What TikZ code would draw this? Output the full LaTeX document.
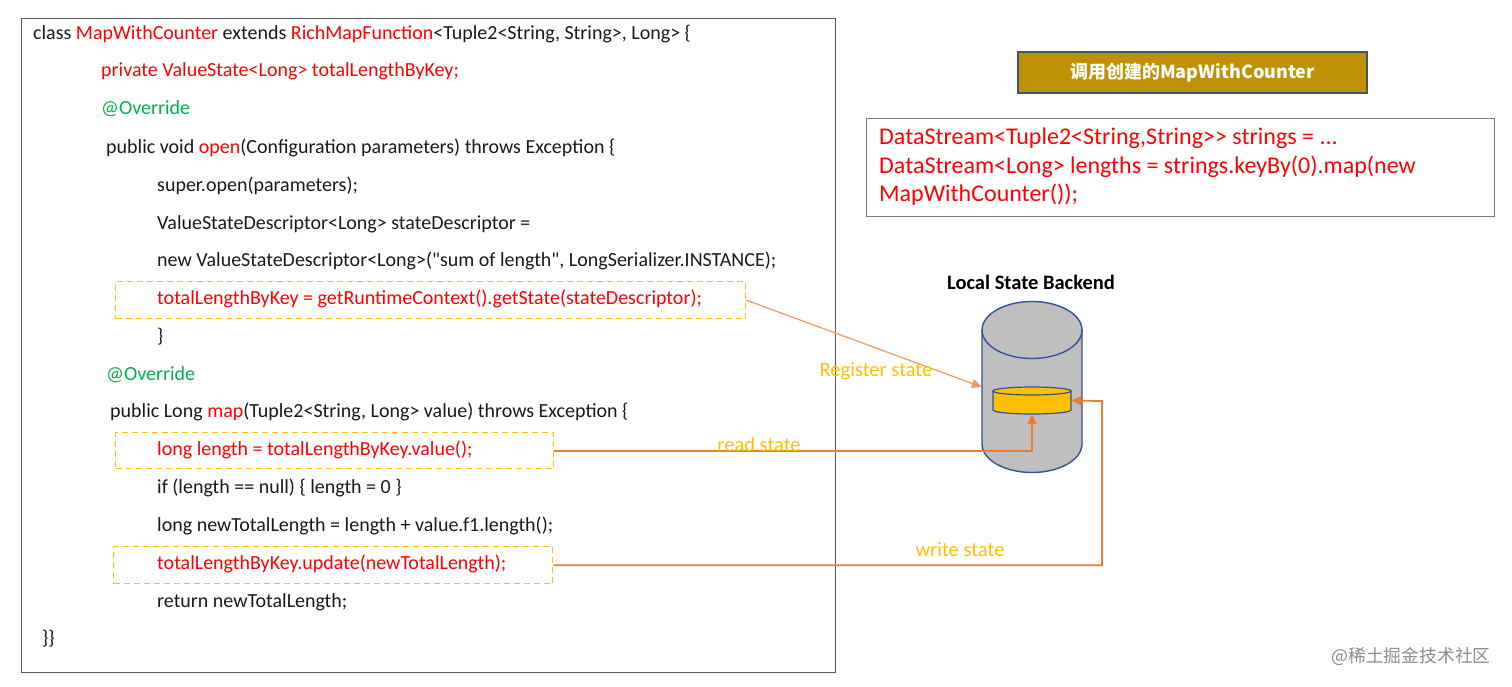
\documentclass[tikz,border=0pt]{standalone}
\usepackage{fontspec}
\setmainfont{Carlito}[Ligatures=TeXOff]
\newfontfamily\cjk{Noto Sans CJK SC}[Ligatures=TeXOff]
\usetikzlibrary{arrows.meta}
\definecolor{codered}{HTML}{FF0000}
\definecolor{codegreen}{HTML}{00B050}
\definecolor{gold}{HTML}{FFC000}
\definecolor{conn}{HTML}{ED7D31}
\definecolor{boxgold}{HTML}{BF9000}
\definecolor{slate}{HTML}{44546A}
\definecolor{cylgray}{HTML}{BFBFBF}
\definecolor{cylblue}{HTML}{2F5597}
\definecolor{frame}{HTML}{595959}
\tikzset{
  codeline/.style={anchor=west, inner sep=0pt, font=\fontsize{20}{24}\selectfont, text=black!90},
  hot/.style={codeline, text=codered},
  anno/.style={codeline, text=codegreen},
  dashbox/.style={draw=gold, line width=1.4pt, dash pattern=on 6pt off 4pt, anchor=north west, inner sep=0pt},
  conline/.style={draw=conn, line width=1.8pt},
  contip/.style={-{Triangle[length=10pt,width=9pt]}},
  conlabel/.style={inner sep=0pt, font=\fontsize{20.5}{24}\selectfont, text=gold},
}
\begin{document}
\begin{tikzpicture}[x=1pt,y=-1pt]
\useasboundingbox (0,0) rectangle (1512,686);
% code frame
\node[draw=frame, line width=1.3pt, anchor=north west, minimum width=814pt, minimum height=654pt, inner sep=0pt] (code) at (21,18) {};
% dashed boxes
\node[dashbox, minimum width=630pt, minimum height=37pt] (box1) at (115,281) {};
\node[dashbox, minimum width=438pt, minimum height=36pt] (box2) at (115,432) {};
\node[dashbox, minimum width=439pt, minimum height=37pt] (box3) at (113,546) {};
% code lines
\node[codeline] (l1) at (33,34) {class \textcolor{codered}{MapWithCounter} extends \textcolor{codered}{RichMapFunction}<Tuple2<String, String>, Long> \{};
\node[hot] (l2) at (101,71) {private ValueState<Long> totalLengthByKey;};
\node[anno] (l3) at (101,109) {@Override};
\node[codeline] (l4) at (106,148) {public void \textcolor{codered}{open}(Configuration parameters) throws Exception \{};
\node[codeline] (l5) at (157,186) {super.open(parameters);};
\node[codeline] (l6) at (157,224) {ValueStateDescriptor<Long> stateDescriptor =};
\node[codeline] (l7) at (157,261) {new ValueStateDescriptor<Long>(\char34 sum of length\char34, LongSerializer.INSTANCE);};
\node[hot] (l8) at (157,299) {totalLengthByKey = getRuntimeContext().getState(stateDescriptor);};
\node[codeline] (l9) at (157,337) {\}};
\node[anno] (l10) at (106,375) {@Override};
\node[codeline] (l11) at (110,412) {public Long \textcolor{codered}{map}(Tuple2<String, Long> value) throws Exception \{};
\node[hot] (l12) at (157,450) {long length = totalLengthByKey.value();};
\node[codeline] (l13) at (157,488) {if (length == null) \{ length = 0 \}};
\node[codeline] (l14) at (157,526) {long newTotalLength = length + value.f1.length();};
\node[hot] (l15) at (157,564) {totalLengthByKey.update(newTotalLength);};
\node[codeline] (l16) at (157,602) {return newTotalLength;};
\node[codeline] (l17) at (42,639) {\}\}};
% title box
\node[draw=slate, fill=boxgold, line width=1.5pt, minimum width=349pt, minimum height=41pt, inner sep=0pt, text=white, font=\cjk\bfseries\fontsize{18}{21}\selectfont] (title) at (1192.5,72.5) {调用创建的MapWithCounter};
% usage box
\node[draw=frame!80, line width=1.3pt, anchor=north west, minimum width=628pt, minimum height=98pt, inner sep=0pt] (usage) at (866,118) {};
\node[anchor=west, align=left, inner sep=0pt, text=codered, font=\fontsize{24}{28.5}\selectfont] (usagetxt) at (879,167) {DataStream<Tuple2<String,String>> strings = ...\\DataStream<Long> lengths = strings.keyBy(0).map(new\\MapWithCounter());};
% backend
\node[inner sep=0pt, font=\bfseries\fontsize{20.5}{24}\selectfont] (backend) at (1031,282) {Local State Backend};
\node[inner sep=0pt, minimum width=100pt, minimum height=172pt] (cyl) at (1032,387) {};
\fill[cylgray] (982,330) -- (982,444) arc[start angle=180,end angle=0,x radius=50,y radius=28.5] -- (1082,330) arc[start angle=0,end angle=-180,x radius=50,y radius=28.5] -- cycle;
\draw[cylblue, line width=1.4pt] (982,330) -- (982,444) arc[start angle=180,end angle=0,x radius=50,y radius=28.5] -- (1082,330);
\draw[cylblue, line width=1.4pt] (1032,330) ellipse[x radius=50, y radius=28.5];
% disk
\node[inner sep=0pt, minimum width=78pt, minimum height=27pt] (disk) at (1032,400.5) {};
\fill[gold] (993,391) -- (993,410) arc[start angle=180,end angle=0,x radius=39,y radius=4] -- (1071,391) -- cycle;
\draw[cylblue, line width=1.2pt] (993,391) -- (993,410) arc[start angle=180,end angle=0,x radius=39,y radius=4] -- (1071,391);
\draw[cylblue, line width=1.2pt, fill=gold] (1032,391) ellipse[x radius=39, y radius=4];
% connectors
\draw[draw=conn!80, line width=1.2pt, contip] (box1.east) -- (cyl.west);
\draw[conline, contip] (box2.east) -| (disk.south);
\coordinate (wturn) at (1102,401);
\draw[conline, contip] (box3.east) -| (wturn) -- (disk.east);
% labels
\node[conlabel] (regl) at (876,371) {Register state};
\node[conlabel] (readl) at (759,444) {read state};
\node[conlabel] (writel) at (960,550) {write state};
% watermark
\node[inner sep=0pt, text=black!45, font=\cjk\fontsize{17.8}{20}\selectfont] (wm) at (1411,656) {@稀土掘金技术社区};
\end{tikzpicture}
\end{document}
